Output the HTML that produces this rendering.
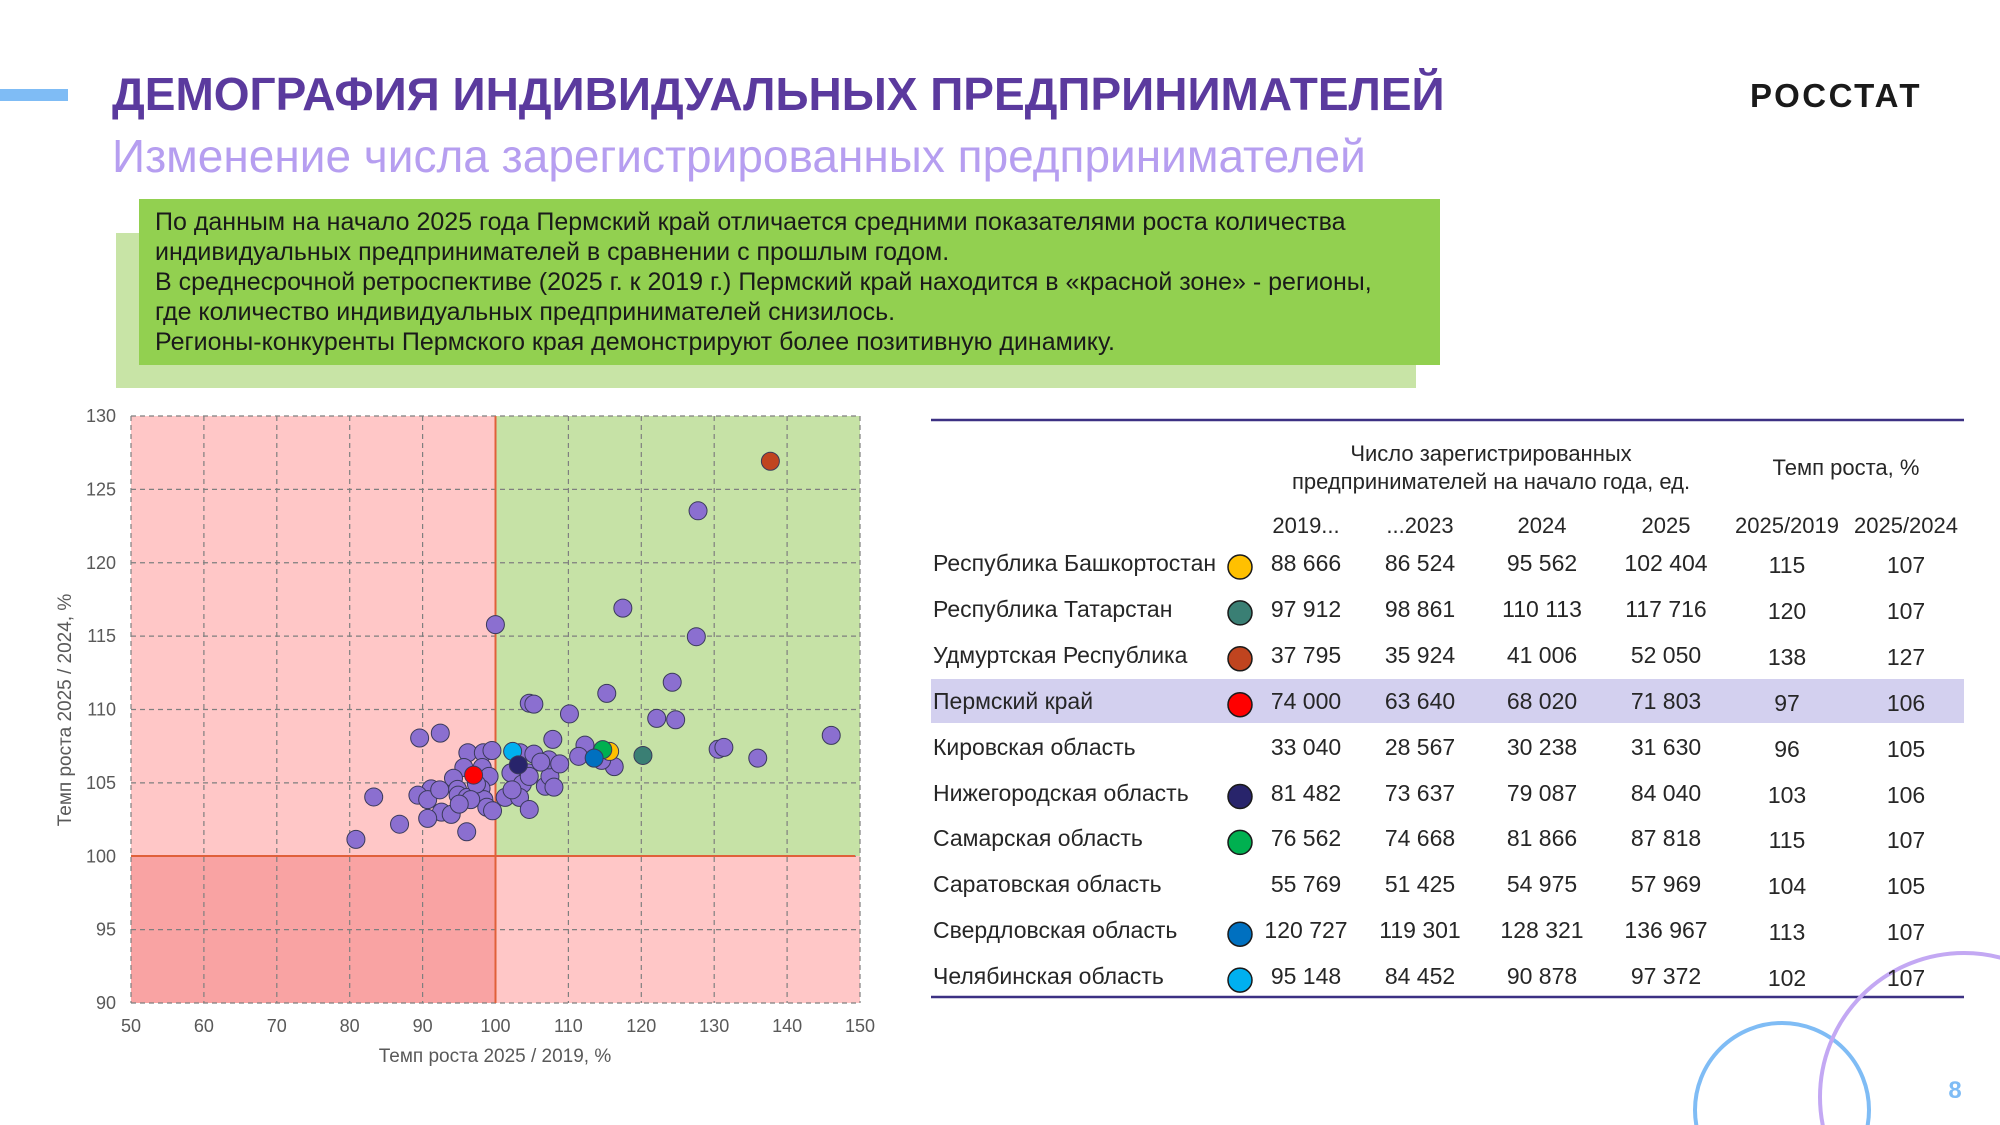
<!DOCTYPE html>
<html style="overflow:hidden"><head><meta charset="utf-8"><style>
html,body{margin:0;width:2000px;height:1125px;overflow:hidden}
body{background:#fff;position:relative;font-family:"Liberation Sans","DejaVu Sans",sans-serif;color:#262626}
.a{position:absolute;white-space:nowrap}
.c{position:absolute;white-space:nowrap;transform:translateX(-50%);font-size:23px}
</style></head><body>
<div class="a" style="left:0;top:89px;width:68px;height:12px;background:#7fbcf5"></div>
<div class="a" style="left:112px;top:67px;font-size:46px;font-weight:bold;color:#5b3a9e">ДЕМОГРАФИЯ ИНДИВИДУАЛЬНЫХ ПРЕДПРИНИМАТЕЛЕЙ</div>
<div class="a" style="left:112px;top:129px;font-size:46px;color:#b69ef0">Изменение числа зарегистрированных предпринимателей</div>
<div class="a" style="left:1750px;top:77px;font-size:33px;font-weight:bold;color:#1a1a1a;letter-spacing:2.5px">РОССТАТ</div>
<div class="a" style="left:116px;top:233px;width:1300px;height:155px;background:#c8e4a6"></div>
<div class="a" style="left:139px;top:199px;width:1301px;height:166px;background:#92d050"></div>
<div class="a" style="left:155px;top:207px;font-size:25px;line-height:30px;color:#1a1a1a">По данным на начало 2025 года Пермский край отличается средними показателями роста количества<br>индивидуальных предпринимателей в сравнении с прошлым годом.<br>В среднесрочной ретроспективе (2025 г. к 2019 г.) Пермский край находится в «красной зоне» - регионы,<br>где количество индивидуальных предпринимателей снизилось.<br>Регионы-конкуренты Пермского края демонстрируют более позитивную динамику.</div>

<svg class="a" style="left:0;top:0;overflow:hidden" width="2000" height="1125" id="s">
<rect x="131" y="416" width="729" height="587" fill="#ffc7c7"/>
<rect x="495.5" y="416" width="364.5" height="440" fill="#c6e2a6"/>
<rect x="131" y="856" width="364.5" height="147" fill="#f9a3a3"/>
<g id="grid" stroke="#7f7f7f" stroke-width="1.2" stroke-dasharray="5,4" fill="none"></g>
<line x1="495.5" y1="416" x2="495.5" y2="1003" stroke="#e0603a" stroke-width="2"/>
<line x1="131" y1="856" x2="855" y2="856" stroke="#e0603a" stroke-width="2"/>
<g id="lab" font-size="18" fill="#595959" font-family="Liberation Sans, sans-serif"></g>
<text x="495" y="1062" font-size="19" fill="#595959" text-anchor="middle">Темп роста 2025 / 2019, %</text>
<text transform="translate(71,710) rotate(-90)" font-size="19" fill="#595959" text-anchor="middle">Темп роста 2025 / 2024, %</text>
<g id="pts" stroke="#3a3a5a" stroke-width="1"></g>
<line x1="931" y1="420" x2="1964" y2="420" stroke="#3c3183" stroke-width="2.5"/>
<line x1="931" y1="997" x2="1964" y2="997" stroke="#3c3183" stroke-width="2.5"/>
<rect x="931" y="679" width="1033" height="44" fill="#d3d0ef"/>
<circle cx="1782" cy="1110" r="87" fill="none" stroke="#7fbcf5" stroke-width="4"/>
<circle cx="1964" cy="1097" r="144" fill="none" stroke="#c3a8f3" stroke-width="4"/>
<text x="1955" y="1098" font-size="24" font-weight="bold" fill="#7fbcf5" text-anchor="middle">8</text>
<g id="dots" stroke="#1a1a1a" stroke-width="1.5"></g>
</svg>
<div id="tbl"></div>
<script>
var ns="http://www.w3.org/2000/svg";
function el(p,t,a,txt){var e=document.createElementNS(ns,t);for(var k in a)e.setAttribute(k,a[k]);if(txt)e.textContent=txt;document.getElementById(p).appendChild(e);}
for(var v=50;v<=150;v+=10){var x=131+(v-50)*7.29;el('grid','line',{x1:x,y1:416,x2:x,y2:1003});el('lab','text',{x:x,y:1032,'text-anchor':'middle'},String(v));}
for(var v=90;v<=130;v+=5){var y=416+(130-v)*14.675;el('grid','line',{x1:131,y1:y,x2:860,y2:y});el('lab','text',{x:116,y:y+6,'text-anchor':'end'},String(v));}
var P=[[1216,293],[1085,511],[863,548],[1213,575],[1171,677],[1057,702],[922,724],[930,726],[992,748],[1144,758],[1177,761],[1448,796],[731,802],[767,791],[963,805],[1019,818],[1251,827],[1261,823],[1320,847],[1070,866],[1008,843],[815,835],[842,835],[857,830],[808,868],[790,892],[797,917],[751,916],[728,930],[745,940],[766,918],[798,930],[840,868],[852,888],[838,915],[843,940],[848,957],[858,965],[769,968],[786,973],[745,982],[696,995],[651,934],[620,1029],[813,1012],[814,935],[830,905],[906,835],[930,838],[920,880],[890,880],[950,910],[958,888],[956,851],[975,860],[965,912],[910,905],[880,935],[905,935],[892,918],[922,888],[922,962],[942,856],[1048,852],[820,940],[800,950]];
P.forEach(function(p){el('pts','circle',{cx:p[0]/1.742,cy:380+p[1]/2.24,r:9,fill:'#8b6fd0'});});
[[1342,182,'#c0441f'],[1120,841,'#3a7f74'],[1062,832,'#ffc000'],[1050,828,'#00b050'],[1035,847,'#0070c0'],[893,832,'#00b0f0'],[903,862,'#28246b'],[825,885,'#ff0000']].forEach(function(p){el('pts','circle',{cx:p[0]/1.742,cy:380+p[1]/2.24,r:9,fill:p[2]});});
var cols=[1306,1420,1542,1666,1787,1906];
var R=[["Республика Башкортостан","#ffc000",["88 666","86 524","95 562","102 404","115","107"]],
["Республика Татарстан","#3a7f74",["97 912","98 861","110 113","117 716","120","107"]],
["Удмуртская Республика","#c0441f",["37 795","35 924","41 006","52 050","138","127"]],
["Пермский край","#ff0000",["74 000","63 640","68 020","71 803","97","106"]],
["Кировская область",null,["33 040","28 567","30 238","31 630","96","105"]],
["Нижегородская область","#28246b",["81 482","73 637","79 087","84 040","103","106"]],
["Самарская область","#00b050",["76 562","74 668","81 866","87 818","115","107"]],
["Саратовская область",null,["55 769","51 425","54 975","57 969","104","105"]],
["Свердловская область","#0070c0",["120 727","119 301","128 321","136 967","113","107"]],
["Челябинская область","#00b0f0",["95 148","84 452","90 878","97 372","102","107"]]];
var h='';
h+='<div class="c" style="left:1491px;top:440px;text-align:center;line-height:28px;font-size:22px">Число зарегистрированных<br>предпринимателей на начало года, ед.</div>';
h+='<div class="c" style="left:1846px;top:455px;font-size:22px">Темп роста, %</div>';
["2019...","...2023","2024","2025","2025/2019","2025/2024"].forEach(function(t,i){h+='<div class="c" style="left:'+cols[i]+'px;top:513px;font-size:22px">'+t+'</div>';});
R.forEach(function(r,i){var y=550+i*45.9;
h+='<div class="a" style="left:933px;top:'+y+'px;font-size:23px">'+r[0]+'</div>';
if(r[1])el('dots','circle',{cx:1240,cy:y+17,r:12,fill:r[1]});
r[2].forEach(function(t,j){h+='<div class="c" style="left:'+cols[j]+'px;top:'+(y+(j>3?2:0))+'px">'+t+'</div>';});});
document.getElementById('tbl').innerHTML=h;
</script>
</body></html>
